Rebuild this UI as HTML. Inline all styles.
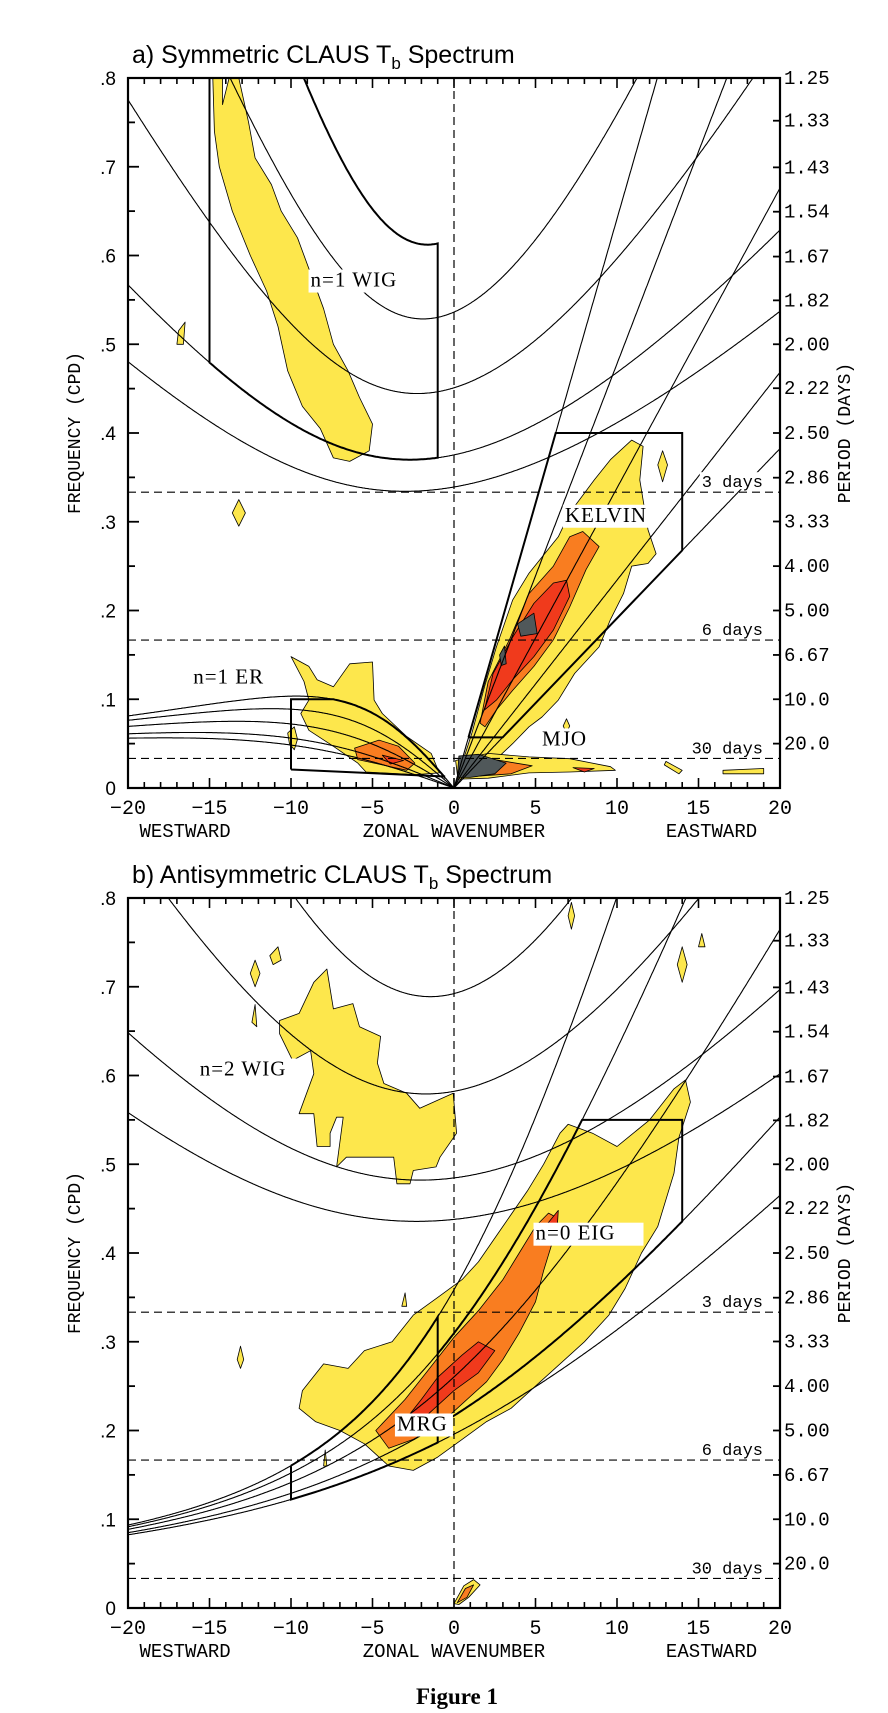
<!DOCTYPE html>
<html><head><meta charset="utf-8"><title>CLAUS Tb Spectrum</title>
<style>
html,body{margin:0;padding:0;background:#fff;}
svg{display:block;}
.mono{font-family:"Liberation Mono","DejaVu Sans Mono",monospace;}
.sans{font-family:"Liberation Sans","DejaVu Sans",sans-serif;}
.serif{font-family:"Liberation Serif","DejaVu Serif",serif;}
</style></head>
<body>
<svg id="fig" width="888" height="1713" viewBox="0 0 888 1713" xmlns="http://www.w3.org/2000/svg"></svg>
<script>
// ---------- data ----------
const periodLabels = ["1.25","1.33","1.43","1.54","1.67","1.82","2.00","2.22","2.50","2.86","3.33","4.00","5.00","6.67","10.0","20.0"];
const freqTicks = [0.8,0.7,0.6,0.5,0.4,0.3,0.2,0.1,0];
const freqTickLabels = [".8",".7",".6",".5",".4",".3",".2",".1","0"];
const waveTicks = [-20,-15,-10,-5,0,5,10,15,20];
const dayLines = [3,6,30];
const igDepths = [8,12,25,50];
const kelvinDepths = [8,12,25,50,90];
const erDepths = [8,12,25,50,90];
const n0Depths = [8,12,25,50,90];

// contour shapes, [wavenumber, frequency(cpd)]
const symWigYellow = [[-14.8,0.8],[-14.2,0.8],[-14.2,0.77],[-13.8,0.8],[-13.2,0.8],[-12.6,0.75],[-12.2,0.71],[-11.2,0.68],[-10.6,0.65],[-9.6,0.62],[-8.8,0.58],[-8.0,0.54],[-7.4,0.5],[-6.5,0.47],[-5.8,0.44],[-5.0,0.41],[-5.2,0.38],[-6.4,0.368],[-7.4,0.372],[-8.2,0.405],[-9.3,0.43],[-10.2,0.47],[-10.8,0.52],[-11.5,0.56],[-12.5,0.6],[-13.6,0.65],[-14.4,0.7],[-14.7,0.74]];
const symWigSmall = [[-16.9,0.515],[-16.5,0.525],[-16.6,0.5],[-17.0,0.5]];
const symBlob2 = [[-13.6,0.31],[-13.2,0.325],[-12.8,0.31],[-13.2,0.295]];
const symBlob3 = [[12.5,0.364],[12.8,0.38],[13.1,0.364],[12.8,0.345]];
const symBlob4 = [[6.7,0.07],[6.9,0.078],[7.1,0.07],[6.9,0.062]];
const symBlob5 = [[13.0,0.03],[14.0,0.02],[13.8,0.016],[12.9,0.026]];
const symBlob6 = [[16.5,0.02],[19.0,0.022],[19.0,0.016],[16.5,0.016]];
const symBlob7 = [[-10.2,0.062],[-9.8,0.069],[-9.6,0.055],[-9.8,0.043],[-10.1,0.05]];
const kelvinYellow = [[0.24,0.013],[1.1,0.062],[1.87,0.114],[2.6,0.159],[3.6,0.212],[4.6,0.242],[6.4,0.283],[7.1,0.31],[8.6,0.347],[9.6,0.37],[10.9,0.392],[11.6,0.385],[11.4,0.347],[11.9,0.291],[12.4,0.264],[11.9,0.253],[10.9,0.25],[10.4,0.219],[9.6,0.19],[8.9,0.159],[7.4,0.129],[6.4,0.099],[5.4,0.08],[4.6,0.069],[3.6,0.05],[2.1,0.024],[0.6,0.011]];
const kelvinOrange = [[1.6,0.073],[2.1,0.12],[3.4,0.167],[4.6,0.219],[6.1,0.25],[7.1,0.283],[7.9,0.289],[8.9,0.272],[8.1,0.246],[7.1,0.204],[6.1,0.167],[4.9,0.137],[3.6,0.11],[2.6,0.088],[1.9,0.069]];
const kelvinRed = [[1.87,0.088],[2.4,0.129],[3.6,0.17],[4.9,0.208],[6.1,0.231],[6.9,0.234],[7.1,0.216],[6.1,0.178],[4.9,0.148],[3.6,0.122],[2.6,0.099]];
const kelvinGray = [[3.9,0.185],[4.9,0.197],[5.1,0.174],[4.1,0.171]];
const kelvinGray2 = [[2.8,0.15],[3.1,0.16],[3.2,0.14],[2.9,0.138]];
const erYellow = [[-10.0,0.148],[-8.9,0.137],[-8.4,0.122],[-7.4,0.114],[-6.4,0.14],[-5.0,0.142],[-4.9,0.099],[-4.4,0.084],[-2.9,0.058],[-1.4,0.039],[-0.9,0.017],[-2.4,0.015],[-5.4,0.018],[-5.9,0.028],[-7.4,0.047],[-8.9,0.065],[-9.4,0.084],[-8.9,0.099],[-9.2,0.12]];
const erOrange = [[-6.1,0.045],[-4.6,0.054],[-3.4,0.047],[-2.4,0.028],[-2.9,0.02],[-4.9,0.028],[-5.9,0.032]];
const erRed = [[-4.4,0.037],[-3.1,0.031],[-3.9,0.027]];
const mjoYellow = [[0.1,0.031],[2.1,0.039],[4.6,0.035],[7.1,0.033],[9.6,0.024],[9.9,0.02],[7.1,0.018],[4.6,0.017],[2.1,0.011],[0.24,0.01]];
const mjoOrange = [[0.6,0.03],[2.5,0.032],[4.8,0.025],[3.5,0.016],[1.2,0.013]];
const mjoRed = [[7.3,0.023],[8.6,0.022],[8.0,0.018]];
const mjoGray = [[0.2,0.012],[0.3,0.036],[1.5,0.038],[3.2,0.028],[2.5,0.016],[1.0,0.012]];
const asyWigYellow = [[-10.7,0.662],[-9.5,0.67],[-8.6,0.705],[-7.8,0.72],[-7.4,0.675],[-6.2,0.681],[-5.8,0.655],[-4.5,0.644],[-4.7,0.614],[-4.3,0.591],[-2.9,0.58],[-2.1,0.563],[-0.05,0.58],[0.16,0.535],[-0.86,0.508],[-1.1,0.497],[-2.5,0.493],[-2.7,0.478],[-3.5,0.478],[-3.7,0.508],[-6.6,0.508],[-7.2,0.497],[-6.8,0.553],[-7.2,0.553],[-7.6,0.535],[-7.6,0.52],[-8.4,0.52],[-8.6,0.557],[-9.5,0.557],[-8.6,0.602],[-8.8,0.628],[-9.9,0.617],[-10.7,0.647]];
const eigYellow = [[-9.3,0.245],[-8,0.275],[-6.5,0.27],[-5.5,0.29],[-3.8,0.3],[-2.5,0.33],[-1,0.35],[0.5,0.37],[1.5,0.39],[3,0.43],[4.5,0.47],[5.5,0.5],[6.5,0.535],[7,0.545],[8.5,0.535],[10,0.52],[11,0.535],[12,0.55],[13.5,0.585],[14.2,0.595],[14.5,0.57],[13.8,0.53],[13.5,0.49],[13,0.46],[12.5,0.43],[11.5,0.4],[10.5,0.36],[9.5,0.33],[8,0.3],[6.5,0.275],[5,0.25],[3.5,0.225],[2,0.21],[0.5,0.19],[-1,0.17],[-2.5,0.155],[-4,0.16],[-5.5,0.185],[-7,0.2],[-8.5,0.21],[-9.5,0.225]];
const eigOrange = [[-4.8,0.2],[-3,0.235],[-1.5,0.27],[0,0.305],[1.5,0.335],[3,0.37],[4,0.4],[5,0.43],[5.8,0.445],[6.3,0.44],[6,0.41],[5.5,0.38],[5,0.345],[4,0.31],[3,0.28],[2,0.255],[0.5,0.23],[-1,0.205],[-2.5,0.19],[-4,0.18]];
const eigRed = [[-3.5,0.2],[-2,0.235],[-1,0.26],[0.5,0.285],[1.5,0.3],[2.5,0.29],[1.5,0.265],[0,0.245],[-1.5,0.22],[-3,0.195]];
const eigRed2 = [[5.6,0.43],[6.4,0.448],[6.3,0.42]];
const asyBlobs = [
 [[-12.5,0.715],[-12.2,0.73],[-11.9,0.715],[-12.2,0.7]],
 [[-11.3,0.735],[-10.8,0.745],[-10.6,0.73],[-11.1,0.725]],
 [[-12.4,0.66],[-12.2,0.68],[-12.1,0.655]],
 [[13.7,0.725],[14.0,0.745],[14.3,0.725],[14.0,0.705]],
 [[15.0,0.745],[15.2,0.76],[15.4,0.745]],
 [[7.0,0.78],[7.2,0.795],[7.4,0.78],[7.2,0.765]],
 [[12.6,0.47],[12.8,0.5],[13.0,0.47],[12.8,0.455]],
 [[-13.3,0.28],[-13.1,0.295],[-12.9,0.28],[-13.1,0.27]],
 [[-8.0,0.16],[-7.9,0.178],[-7.8,0.16]],
 [[-3.2,0.34],[-3.0,0.355],[-2.9,0.34]]
];
const asyLowYellow = [[0.0,0.005],[0.6,0.025],[1.2,0.032],[1.6,0.026],[0.9,0.012],[0.3,0.004]];
const asyLowOrange = [[0.2,0.006],[0.7,0.022],[1.2,0.026],[0.8,0.012]];

// ---------- physics ----------
const A = 6.371e6, OM = 7.292e-5, BETA = 2*OM/A, G = 9.81;
function cpd(w){ return w*86400/(2*Math.PI); }
function kelvinF(s,h){ const c=Math.sqrt(G*h); return cpd(c*s/A); }
function erF(s,h){ const c=Math.sqrt(G*h), k=s/A; return cpd(-BETA*k/(k*k+3*BETA/c)); }
function igF(s,n,h){ const c=Math.sqrt(G*h), k=s/A; const base=c*c*k*k+(2*n+1)*BETA*c; let w=Math.sqrt(base); for(let i=0;i<40;i++){ w=Math.sqrt(Math.max(1e-22, base+BETA*k*c*c/w)); } return cpd(w); }
function n0F(s,h){ const c=Math.sqrt(G*h), k=s/A; return cpd(k*c/2+Math.sqrt(k*k*c*c/4+BETA*c)); }

// ---------- drawing ----------
const NS = "http://www.w3.org/2000/svg";
const svg = document.getElementById('fig');
const XL = 128, XR = 780, FS = 887.5;
function X(k){ return XL + (k+20)*(XR-XL)/40; }
function mk(tag, attrs, parent){ const e=document.createElementNS(NS,tag); for(const a in attrs) e.setAttribute(a, attrs[a]); (parent||svg).appendChild(e); return e; }

function buildPanel(id, y0, title, sub){
  const Y = f => y0 - f*FS;
  const g = mk('g', {});
  
  
  const cp = mk('clipPath', {id:'clip-'+id}, g);
  mk('rect', {x:XL, y:Y(0.8), width:XR-XL, height:0.8*FS}, cp);
  const plot = mk('g', {'clip-path':'url(#clip-'+id+')'}, g);
  
  

  const blob = (pts, fill, name) => {
    const d = pts.map((p,i)=>(i?'L':'M')+X(p[0]).toFixed(1)+','+Y(p[1]).toFixed(1)).join('')+'Z';
    const e = mk('path', {d:d, fill:fill, stroke:'#000', 'stroke-width':0.8, 'stroke-linejoin':'round'}, plot);
    
    
  };
  const curve = (fn, k0, k1, w, name) => {
    let d=''; let first=true;
    for(let k=k0; k<=k1+1e-9; k+=0.05){ const f=fn(k); if(!isFinite(f)) continue; const yy=Math.max(-50,Math.min(2000,Y(f))); d+=(first?'M':'L')+X(k).toFixed(1)+','+yy.toFixed(1); first=false; }
    const e = mk('path', {d:d, fill:'none', stroke:'#000', 'stroke-width':w}, plot);
    
    
  };
  const poly = (pts, w, name) => {
    const d = pts.map((p,i)=>(i?'L':'M')+X(p[0]).toFixed(1)+','+Y(p[1]).toFixed(1)).join('');
    const e = mk('path', {d:d, fill:'none', stroke:'#000', 'stroke-width':w}, plot);
    
    
  };
  const YEL='#fde74c', ORA='#f97d20', RED='#f03a1c', GRY='#50585a';

  if(id==='a'){
    blob(symWigYellow, YEL, 'wig-contour');
    blob(symWigSmall, YEL, 'small-contour');
    [symBlob2,symBlob3,symBlob4,symBlob5,symBlob6,symBlob7].forEach(b=>blob(b, YEL, 'small-contour'));
    blob(kelvinYellow, YEL, 'kelvin-contour-1');
    blob(kelvinOrange, ORA, 'kelvin-contour-2');
    blob(kelvinRed, RED, 'kelvin-contour-3');
    blob(kelvinGray, GRY, 'kelvin-contour-4');
    blob(kelvinGray2, GRY, 'kelvin-contour-4b');
    blob(erYellow, YEL, 'er-contour-1');
    blob(erOrange, ORA, 'er-contour-2');
    blob(erRed, RED, 'er-contour-3');
    blob(mjoYellow, YEL, 'mjo-contour-1');
    blob(mjoOrange, ORA, 'mjo-contour-2');
    blob(mjoRed, RED, 'mjo-contour-3');
    blob(mjoGray, GRY, 'mjo-contour-4');
    igDepths.forEach(h=>curve(k=>igF(k,1,h), -20, 20, 1.1, 'n1-ig-curve-h'+h));
    kelvinDepths.forEach(h=>curve(k=>kelvinF(k,h), 0, 20, 1.1, 'kelvin-curve-h'+h));
    erDepths.forEach(h=>curve(k=>erF(k,h), -20, 0, 1.1, 'er-curve-h'+h));
    const wig=[[-15,0.9]]; for(let k=-15;k<=-1+1e-9;k+=0.1) wig.push([k,igF(k,1,12)]);
    for(let k=-1;k>=-15-1e-9;k-=0.1) wig.push([k,Math.min(0.9,igF(k,1,90))]);
    wig.push([-15,0.9]); poly(wig, 2, 'wig-filter-box');
    const fb=0.057, kb90=fb/kelvinF(1,90), kb8=fb/kelvinF(1,8), kt90=0.4/kelvinF(1,90);
    poly([[kb90,fb],[kt90,0.4],[14,0.4],[14,kelvinF(14,8)],[kb8,fb],[kb90,fb]], 2, 'kelvin-filter-box');
    const er=[[-10,0.0208]]; for(let k=-10;k<=-0.6+1e-9;k+=0.1) er.push([k,Math.min(0.1,erF(k,90))]);
    er.push([-0.6,0.013]); er.push([-10,0.0208]); poly(er, 2, 'er-filter-box');
  } else {
    blob(asyWigYellow, YEL, 'wig-contour');
    asyBlobs.forEach(b=>blob(b, YEL, 'small-contour'));
    blob(eigYellow, YEL, 'eig-contour-1');
    blob(eigOrange, ORA, 'eig-contour-2');
    blob(eigRed, RED, 'eig-contour-3');
    blob(eigRed2, RED, 'eig-contour-3b');
    blob(asyLowYellow, YEL, 'low-contour-1');
    blob(asyLowOrange, ORA, 'low-contour-2');
    igDepths.forEach(h=>curve(k=>igF(k,2,h), -20, 20, 1.1, 'n2-ig-curve-h'+h));
    n0Depths.forEach(h=>curve(k=>n0F(k,h), -20, 20, 1.1, 'n0-curve-h'+h));
    const mrg=[[-10,n0F(-10,90)],[-10,n0F(-10,8)]]; for(let k=-10;k<=-1+1e-9;k+=0.1) mrg.push([k,n0F(k,8)]);
    mrg.push([-1,n0F(-1,90)]); for(let k=-1;k>=-10-1e-9;k-=0.1) mrg.push([k,n0F(k,90)]);
    poly(mrg, 2, 'mrg-filter-box');
    let kTop=-1; while(n0F(kTop,50)<0.55 && kTop<20) kTop+=0.02;
    const eig=[]; for(let k=-1;k<=kTop;k+=0.1) eig.push([k,n0F(k,50)]);
    eig.push([kTop,0.55]); eig.push([14,0.55]); eig.push([14,n0F(14,12)]);
    for(let k=14;k>=-1-1e-9;k-=0.1) eig.push([k,n0F(k,12)]);
    poly(eig, 2, 'eig-filter-box');
  }
  const dz = mk('line', {x1:X(0), x2:X(0), y1:Y(0.8), y2:Y(0), stroke:'#000', 'stroke-width':1.2, 'stroke-dasharray':'8 5'}, plot);
  
  
  dayLines.forEach(d=>{
    const l = mk('line', {x1:XL, x2:XR, y1:Y(1/d), y2:Y(1/d), stroke:'#000', 'stroke-width':1.2, 'stroke-dasharray':'8 5'}, plot);
    
    
    const lab = d+' days';
    const w = lab.length*10.2;
    const bg = mk('rect', {x:XR-17-w-2, y:Y(1/d)-20, width:w+4, height:17, fill:'#fff'}, g);
    
    
    const t = mk('text', {x:XR-17, y:Y(1/d)-5, 'text-anchor':'end', 'font-size':17, class:'mono'}, g);
    t.textContent = lab;
    
    
  });
  const fr = mk('rect', {x:XL, y:Y(0.8), width:XR-XL, height:0.8*FS, fill:'none', stroke:'#000', 'stroke-width':2.2}, g);
  
  
  for(let k=-20;k<=20;k++){
    const len = (k%5===0)?10:6;
    mk('line', {x1:X(k), x2:X(k), y1:Y(0), y2:Y(0)-len, stroke:'#000', 'stroke-width':1.6}, g);
    mk('line', {x1:X(k), x2:X(k), y1:Y(0.8), y2:Y(0.8)+len, stroke:'#000', 'stroke-width':1.6}, g);
  }
  for(let i=0;i<=16;i++){
    const f=i*0.05, len=(i%2===0)?11:7;
    mk('line', {x1:XL, x2:XL+len, y1:Y(f), y2:Y(f), stroke:'#000', 'stroke-width':1.8}, g);
  }
  periodLabels.forEach((p,i)=>{
    const f = 1/parseFloat(p);
    mk('line', {x1:XR, x2:XR-7, y1:Y(f), y2:Y(f), stroke:'#000', 'stroke-width':1.8}, g);
    const t = mk('text', {x:XR+4, y:Y(f)+6, 'font-size':19, class:'mono'}, g);
    t.textContent = p;
    
    
  });
  freqTicks.forEach((f,i)=>{
    const t = mk('text', {x:116, y:Y(f)+7, 'text-anchor':'end', 'font-size':19, class:'sans'}, g);
    t.textContent = freqTickLabels[i];
    
    
  });
  waveTicks.forEach(k=>{
    const t = mk('text', {x:X(k), y:Y(0)+26, 'text-anchor':'middle', 'font-size':20, class:'mono'}, g);
    t.textContent = String(k).replace('-','\u2212');
    
    
  });
  const xl = [['WESTWARD',X(-16.5)],['ZONAL WAVENUMBER',X(0)],['EASTWARD',X(15.8)]];
  xl.forEach(([s,x])=>{
    const t = mk('text', {x:x, y:Y(0)+49, 'text-anchor':'middle', 'font-size':19, class:'mono'}, g);
    t.textContent = s;
    
    
  });
  const ym = Y(0.4);
  const yt = mk('text', {x:0, y:0, 'text-anchor':'middle', 'font-size':18, class:'mono', transform:'translate(80,'+ym+') rotate(-90)'}, g);
  yt.textContent = 'FREQUENCY (CPD)';
  
  
  const yr = mk('text', {x:0, y:0, 'text-anchor':'middle', 'font-size':18, class:'mono', transform:'translate(850,'+ym+') rotate(-90)'}, g);
  yr.textContent = 'PERIOD (DAYS)';
  
  
  const tt = mk('text', {x:132, y:Y(0.8)-15, 'font-size':25, class:'sans'}, g);
  
  
  tt.appendChild(document.createTextNode(title+' T'));
  const ts = mk('tspan', {'font-size':17, dy:6}, tt); ts.textContent='b';
  const ts2 = mk('tspan', {dy:-6}, tt); ts2.textContent=' Spectrum';
  sub.forEach(([s,k,f,w])=>{
    const bg = mk('rect', {x:X(k)-2, y:Y(f)-17, width:w, height:23, fill:'#fff'}, g);
    
    
    const t = mk('text', {x:X(k), y:Y(f), 'font-size':21, 'letter-spacing':'1', class:'serif'}, g);
    t.textContent = s;
    
    
  });
}

buildPanel('a', 788, 'a) Symmetric CLAUS', [
  ['n=1 WIG',-8.8,0.565,108],['KELVIN',6.8,0.3,90],['n=1 ER',-16,0.118,96],['MJO',5.4,0.048,50]
]);
buildPanel('b', 1608, 'b) Antisymmetric CLAUS', [
  ['n=2 WIG',-15.6,0.6,110],['n=0 EIG',5.0,0.415,110],['MRG',-3.5,0.2,58]
]);
const cap = mk('text', {x:457, y:1704, 'text-anchor':'middle', 'font-size':23, 'font-weight':'bold', class:'serif'});
cap.textContent = 'Figure 1';


</script>
</body></html>
